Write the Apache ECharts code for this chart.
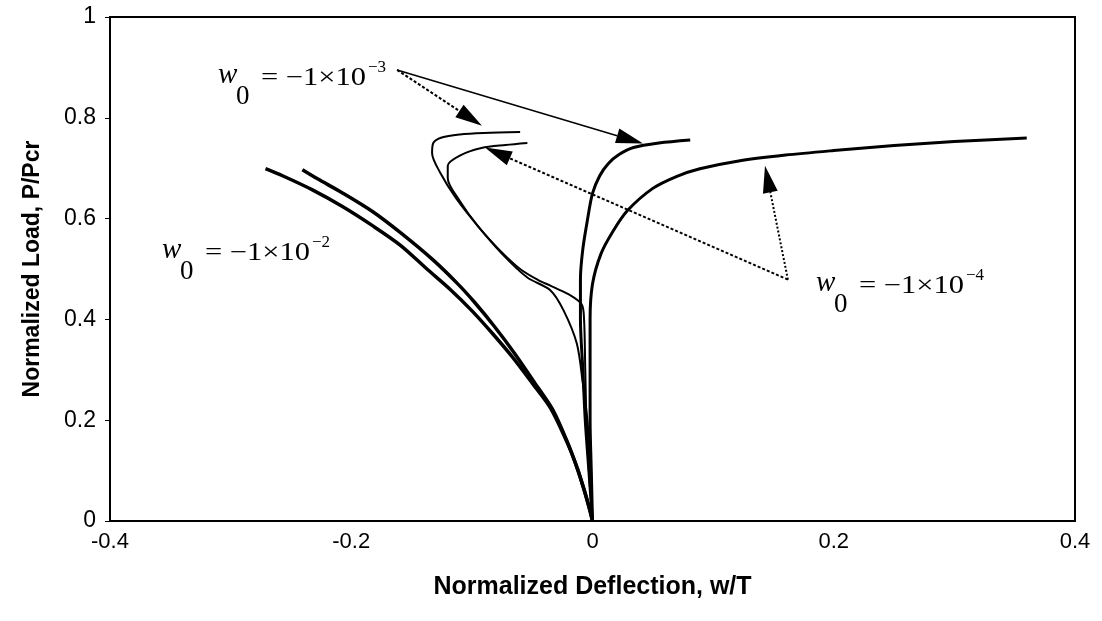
<!DOCTYPE html>
<html>
<head>
<meta charset="utf-8">
<script src="https://cdn.jsdelivr.net/npm/echarts/dist/echarts.min.js"></script>
<style>
  html, body { margin: 0; background: #fff; }
  #chart { width: 1102px; height: 621px; }
</style>
</head>
<body>
<div id="chart"></div>
<script>
// load-deflection paths, [w/T, P/Pcr]
// w0 = -1e-2, two branches
const w2a = [[0,0],[-0.0025,0.024],[-0.0066,0.059],[-0.0124,0.103],[-0.0207,0.154],[-0.0348,0.224],[-0.0498,0.273],[-0.0663,0.325],[-0.0829,0.372],[-0.0995,0.416],[-0.1177,0.459],[-0.1368,0.499],[-0.1592,0.547],[-0.1824,0.586],[-0.2073,0.624],[-0.2322,0.657],[-0.257,0.685],[-0.2711,0.699]];
const w2b = [[0,0],[-0.0025,0.024],[-0.0066,0.059],[-0.0124,0.103],[-0.0207,0.156],[-0.0332,0.222],[-0.0481,0.275],[-0.0647,0.333],[-0.0813,0.386],[-0.0978,0.434],[-0.1119,0.471],[-0.1327,0.519],[-0.1592,0.572],[-0.1824,0.614],[-0.2073,0.651],[-0.228,0.679],[-0.2405,0.697]];
// w0 = -1e-3
const w3a = [[0,0],[-0.002,0.1],[-0.004,0.194],[-0.008,0.273],[-0.013,0.352],[-0.024,0.418],[-0.035,0.458],[-0.054,0.483],[-0.075,0.53],[-0.095,0.585],[-0.113,0.64],[-0.126,0.69],[-0.133,0.73],[-0.132,0.75],[-0.125,0.761],[-0.11,0.767],[-0.09,0.77],[-0.06,0.772]];
const w3b = [[0,0],[-0.003,0.1],[-0.006,0.2],[-0.008,0.3],[-0.01,0.4],[-0.01,0.48],[-0.008,0.54],[-0.004,0.6],[0.0,0.65],[0.006,0.685],[0.013,0.709],[0.022,0.727],[0.034,0.741],[0.055,0.75],[0.081,0.756]];
// w0 = -1e-4
const w4a = [[0,0],[-0.003,0.1],[-0.005,0.2],[-0.006,0.3],[-0.007,0.4],[-0.009,0.43],[-0.02,0.45],[-0.035,0.467],[-0.045,0.478],[-0.06,0.5],[-0.078,0.54],[-0.095,0.585],[-0.11,0.635],[-0.12,0.68],[-0.12,0.705],[-0.11,0.725],[-0.092,0.74],[-0.072,0.746],[-0.054,0.75]];
const w4b = [[0,0],[-0.001,0.1],[-0.002,0.2],[-0.002,0.3],[-0.002,0.4],[0,0.47],[0.007,0.53],[0.017,0.575],[0.029,0.616],[0.05,0.66],[0.07,0.684],[0.089,0.699],[0.12,0.714],[0.16,0.726],[0.2,0.735],[0.25,0.745],[0.3,0.753],[0.36,0.76]];

// annotation arrows, [from, to] in data coords
const arrows3 = [[[-0.162,0.895],[-0.0916,0.784]],[[-0.162,0.895],[0.0419,0.749]]];
const arrows4 = [[[0.162,0.479],[-0.0891,0.741]],[[0.162,0.479],[0.143,0.705]]];

const chart = echarts.init(document.getElementById('chart'));

function line(data, width) {
  return {
    type: 'line', data: data, showSymbol: false, smooth: 0.3,
    lineStyle: { color: '#000', width: width }, silent: true
  };
}

chart.setOption({
  animation: false,
  backgroundColor: '#fff',
  grid: { left: 110, right: 27, top: 17, bottom: 100, show: true, borderColor: '#000', borderWidth: 2 },
  xAxis: {
    type: 'value', min: -0.4, max: 0.4, interval: 0.2,
    name: 'Normalized Deflection, w/T', nameLocation: 'middle', nameGap: 54,
    nameTextStyle: { fontFamily: 'Liberation Sans', fontWeight: 'bold', fontSize: 25, color: '#000' },
    axisLine: { onZero: false, lineStyle: { color: '#000', width: 2 } },
    axisTick: { show: false },
    splitLine: { show: false },
    axisLabel: { fontFamily: 'Liberation Sans', fontSize: 22, color: '#000', margin: 10 }
  },
  yAxis: {
    type: 'value', min: 0, max: 1, interval: 0.2,
    name: 'Normalized Load, P/Pcr', nameLocation: 'middle', nameGap: 66,
    nameTextStyle: { fontFamily: 'Liberation Sans', fontWeight: 'bold', fontSize: 23, color: '#000' },
    axisLine: { onZero: false, lineStyle: { color: '#000', width: 2 } },
    axisTick: { show: true, length: 5, lineStyle: { color: '#000' } },
    splitLine: { show: false },
    axisLabel: { fontFamily: 'Liberation Sans', fontSize: 23, color: '#000', margin: 14 }
  },
  series: [line(w2a, 3.5), line(w2b, 3.5), line(w3a, 2), line(w4a, 2), line(w3b, 3), line(w4b, 3)]
});

function arrow(pair, dash) {
  const p0 = chart.convertToPixel({ gridIndex: 0 }, pair[0]);
  const p1 = chart.convertToPixel({ gridIndex: 0 }, pair[1]);
  const dx = p1[0] - p0[0], dy = p1[1] - p0[1], L = Math.hypot(dx, dy);
  const ux = dx / L, uy = dy / L, hl = 27, hw = 7.5;
  const bx = p1[0] - ux * hl, by = p1[1] - uy * hl;
  return [
    { type: 'line', shape: { x1: p0[0], y1: p0[1], x2: bx, y2: by },
      style: { stroke: '#000', lineWidth: dash ? 2 : 1.5, lineDash: dash || null } },
    { type: 'polygon', shape: { points: [p1, [bx - uy * hw, by + ux * hw], [bx + uy * hw, by - ux * hw]] },
      style: { fill: '#000' } }
  ];
}

const serif = '"Liberation Serif", "DejaVu Serif", serif';
function eqLabel(x, y, exp) {
  return {
    type: 'group', x: x, y: y,
    children: [
      { type: 'text', style: { text: 'w', font: 'italic 29px ' + serif, fill: '#000', verticalAlign: 'middle' } },
      { type: 'text', x: 18, y: 21, style: { text: '0', font: '27px ' + serif, fill: '#000', verticalAlign: 'middle' } },
      { type: 'text', x: 43, y: 3, scaleX: 1.22, style: { text: '= \u22121\u00d710', font: '25px ' + serif, fill: '#000', verticalAlign: 'middle' } },
      { type: 'text', x: 150, y: -8, style: { text: exp, font: '17px ' + serif, fill: '#000', verticalAlign: 'middle' } }
    ]
  };
}

const g = [];
g.push(...arrow(arrows3[0], [3, 2]), ...arrow(arrows3[1]));
g.push(...arrow(arrows4[0], [3, 2]), ...arrow(arrows4[1], [2, 2]));
g.push(eqLabel(218, 75.5, '\u22123'), eqLabel(162, 250.5, '\u22122'), eqLabel(816, 283.5, '\u22124'));
chart.setOption({ graphic: g });
</script>
</body>
</html>
